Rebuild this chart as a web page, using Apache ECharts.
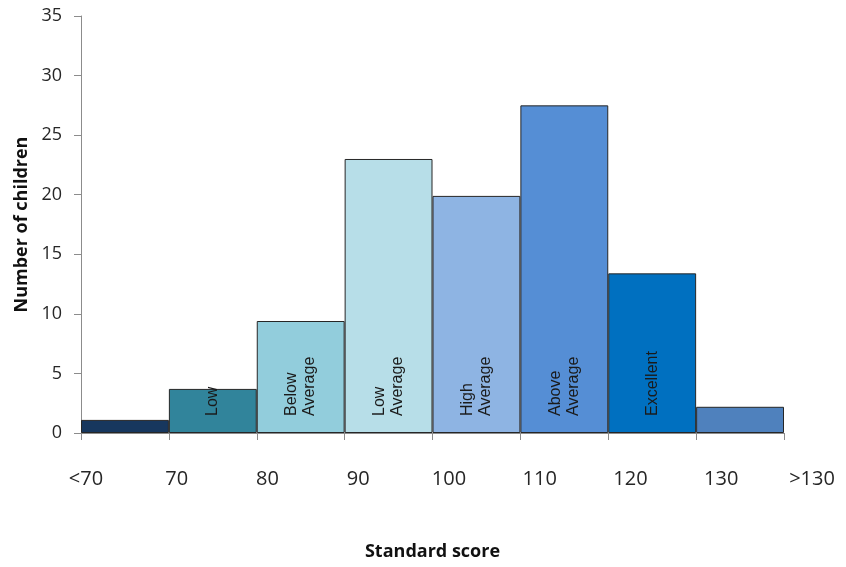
<!DOCTYPE html>
<html><head><meta charset="utf-8">
<script src="https://cdn.jsdelivr.net/npm/echarts@6/dist/echarts.min.js"></script>
<style>html,body{margin:0;padding:0;background:#fff}#c{width:846px;height:567px}</style>
</head><body><div id="c"></div>
<script>
const categories = ['<70', '70-80', '80-90', '90-100', '100-110', '110-120', '120-130', '>130'];
const counts = [1.1, 3.7, 9.4, 23, 19.9, 27.5, 13.4, 2.2];
const bandNames = ['', 'Low', 'Below\nAverage', 'Low\nAverage', 'High\nAverage', 'Above\nAverage', 'Excellent', ''];
const tickLabels = ['<70', '70', '80', '90', '100', '110', '120', '130', '>130'];
const yTicks = [0, 5, 10, 15, 20, 25, 30, 35];

const colors = ['#17375E', '#31849B', '#92CDDC', '#B7DEE8', '#8EB4E3', '#558ED5', '#0070C0', '#4F81BD'];

const chart = echarts.init(document.getElementById('c'), null, {renderer: 'canvas'});
const axisGray = '#8C8C8C';
const textColor = '#262626';
chart.setOption({
  animation: false,
  backgroundColor: '#ffffff',
  grid: [
    {left: 81, right: 62, top: 16, bottom: 134, containLabel: false},
    {left: 86, right: 34, top: 16, bottom: 134, containLabel: false}
  ],
  xAxis: [
    {
      type: 'category', gridIndex: 0, data: categories, boundaryGap: true,
      axisLine: {show: true, lineStyle: {color: axisGray, width: 1}},
      axisTick: {show: true, length: 7, alignWithLabel: false, lineStyle: {color: axisGray}},
      axisLabel: {show: false},
      splitLine: {show: false},
      name: 'Standard score', nameLocation: 'middle', nameGap: 110,
      nameTextStyle: {fontFamily: 'Open Sans', fontWeight: 'bold', fontSize: 18, color: '#111'}
    },
    {
      type: 'value', gridIndex: 1, min: 0, max: tickLabels.length - 1, interval: 1,
      axisLine: {show: false}, axisTick: {show: false}, splitLine: {show: false},
      axisLabel: {
        show: true, margin: 36, fontFamily: 'Open Sans', fontSize: 20, color: textColor,
        showMinLabel: true, showMaxLabel: true, hideOverlap: false,
        formatter: v => tickLabels[Math.round(v)]
      }
    }
  ],
  yAxis: [
    {
      type: 'value', gridIndex: 0, min: yTicks[0], max: yTicks[yTicks.length - 1], interval: 5,
      axisLine: {show: true, lineStyle: {color: axisGray, width: 1}},
      axisTick: {show: true, length: 7, lineStyle: {color: axisGray}},
      splitLine: {show: false},
      axisLabel: {margin: 19, fontFamily: 'Open Sans', fontSize: 18, color: textColor},
      name: 'Number of children', nameLocation: 'middle', nameGap: 47, nameRotate: 90,
      nameTextStyle: {fontFamily: 'Open Sans', fontWeight: 'bold', fontSize: 18, color: '#111'}
    },
    {type: 'value', gridIndex: 1, min: 0, max: 1, show: false}
  ],
  series: [{
    type: 'bar', xAxisIndex: 0, yAxisIndex: 0,
    barCategoryGap: '0%', barWidth: '100%',
    data: counts.map((v, i) => ({value: v, itemStyle: {color: colors[i]}})),
    itemStyle: {borderColor: '#262626', borderWidth: 1},
    label: {
      show: true, position: 'insideBottom', distance: 17, rotate: 90,
      align: 'left', verticalAlign: 'middle',
      fontFamily: 'Liberation Sans', fontSize: 16, lineHeight: 18, color: '#1a1a1a',
      formatter: p => bandNames[p.dataIndex]
    },
    emphasis: {disabled: true}
  }]
});
</script>
</body></html>
